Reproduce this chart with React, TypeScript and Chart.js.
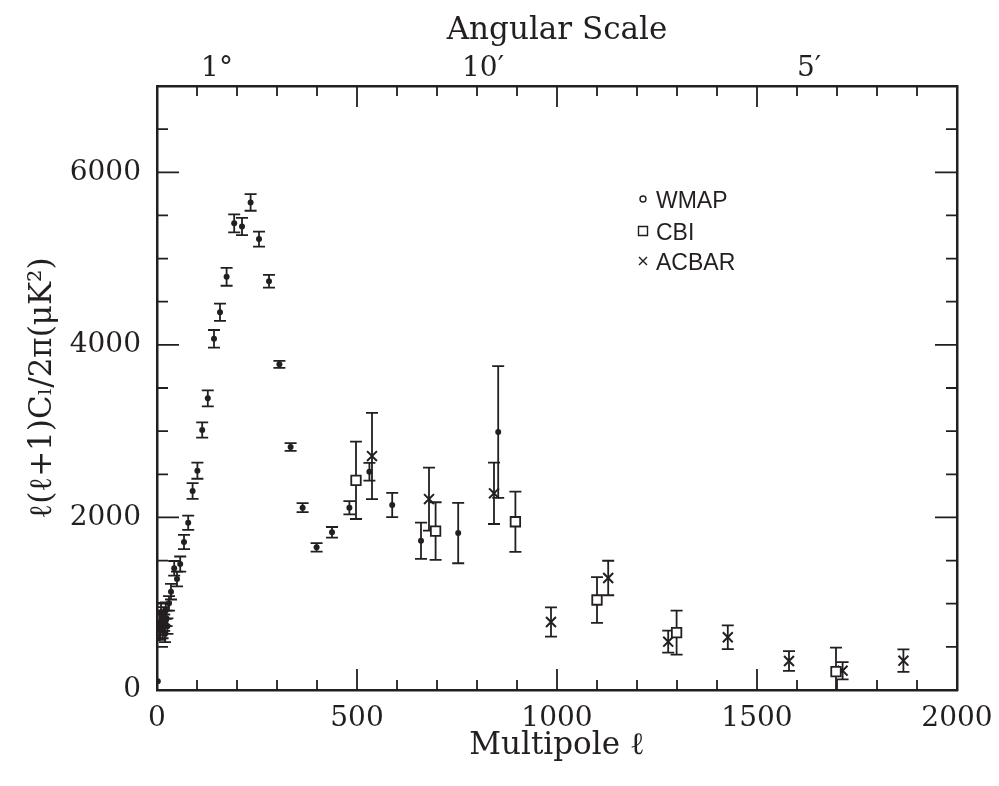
import { useEffect, useRef } from "react";
import { Chart, registerables } from "chart.js";

Chart.register(...registerables);

// ---------- data ----------
const wmapEll = [2, 4, 6, 8, 10, 12, 14, 16, 18, 20, 22, 24, 26, 30, 35, 43, 50, 58, 67.5, 78, 89, 101, 113, 127, 142.5, 157.5, 174, 193, 212.5, 234, 255, 280, 306, 334, 364, 399, 437.5, 481, 531, 588, 660, 753, 853];
const wmapVal = [100, 600, 760, 690, 900, 820, 700, 860, 780, 650, 920, 830, 740, 1004, 1139, 1410, 1286, 1460, 1715, 1939, 2306, 2541, 3013, 3380, 4070, 4378, 4789, 5408, 5372, 5651, 5226, 4737, 3774, 2816, 2113, 1653, 1827, 2113, 2530, 2144, 1730, 1819, 2990];
const wmapErr = [0, 0, 120, 110, 110, 100, 100, 100, 95, 95, 95, 90, 90, 85, 90, 85, 85, 87, 83, 83, 91, 93, 89, 93, 102, 100, 104, 105, 100, 97, 87, 73, 41, 45, 52, 50, 62, 77, 103, 140, 210, 350, 763];

const cbiEll = [497.5, 696.5, 896, 1100, 1299, 1697.5];
const cbiVal = [2430, 1842, 1950, 1043, 664, 212];
const cbiErr = [448, 334, 350, 265, 255, 280];

const acbarEll = [537.5, 680, 842.5, 985, 1128, 1278, 1427, 1580, 1714, 1866];
const acbarVal = [2711, 2213, 2279, 788, 1298, 560, 611, 336, 224, 340];
const acbarErr = [500, 365, 355, 170, 200, 128, 137, 115, 100, 130];

const xTickValues = [0, 500, 1000, 1500, 2000];
const yTickValues = [0, 2000, 4000, 6000];
const topTickValues = [150, 815, 1630];
const topTickLabels = ["1°", "10′", "5′"];
const legendLabels = ["WMAP", "CBI", "ACBAR"];

const X_MIN = 0, X_MAX = 2000, Y_MIN = 0, Y_MAX = 7000;
const X_MINOR = 100, X_MAJOR = 500, Y_MINOR = 500, Y_MAJOR = 2000;

const INK = "#231f20";
const SERIF = '"DejaVu Serif", "Liberation Serif", serif';

const errorSets = [
  { ell: wmapEll, val: wmapVal, err: wmapErr },
  { ell: cbiEll, val: cbiVal, err: cbiErr },
  { ell: acbarEll, val: acbarVal, err: acbarErr },
];

const errorBarPlugin = {
  id: "errorBars",
  beforeDatasetsDraw(chart: any) {
    const { ctx, chartArea, scales } = chart;
    const xs = scales.x, ys = scales.y;
    ctx.save();
    ctx.beginPath();
    ctx.rect(chartArea.left, chartArea.top, chartArea.right - chartArea.left, chartArea.bottom - chartArea.top);
    ctx.clip();
    ctx.strokeStyle = INK;
    ctx.lineWidth = 1.8;
    const cap = 6;
    for (const s of errorSets) {
      for (let i = 0; i < s.ell.length; i++) {
        if (!s.err[i]) continue;
        const px = xs.getPixelForValue(s.ell[i]);
        const top = ys.getPixelForValue(s.val[i] + s.err[i]);
        const bot = ys.getPixelForValue(s.val[i] - s.err[i]);
        ctx.beginPath();
        ctx.moveTo(px, top);
        ctx.lineTo(px, bot);
        ctx.moveTo(px - cap, top);
        ctx.lineTo(px + cap, top);
        ctx.moveTo(px - cap, bot);
        ctx.lineTo(px + cap, bot);
        ctx.stroke();
      }
    }
    ctx.restore();
  },
};

const tickPlugin = {
  id: "inTicks",
  afterDraw(chart: any) {
    const { ctx, chartArea, scales } = chart;
    const xs = scales.x, ys = scales.y;
    ctx.save();
    ctx.strokeStyle = INK;
    ctx.lineWidth = 1.8;
    ctx.beginPath();
    for (let v = X_MIN + X_MINOR; v < X_MAX; v += X_MINOR) {
      const px = xs.getPixelForValue(v);
      const len = v % X_MAJOR === 0 ? 21 : 10;
      ctx.moveTo(px, chartArea.bottom);
      ctx.lineTo(px, chartArea.bottom - len);
      ctx.moveTo(px, chartArea.top);
      ctx.lineTo(px, chartArea.top + len);
    }
    for (let v = Y_MIN + Y_MINOR; v < Y_MAX; v += Y_MINOR) {
      const py = ys.getPixelForValue(v);
      const len = v % Y_MAJOR === 0 ? 22 : 11;
      ctx.moveTo(chartArea.left, py);
      ctx.lineTo(chartArea.left + len, py);
      ctx.moveTo(chartArea.right, py);
      ctx.lineTo(chartArea.right - len, py);
    }
    ctx.stroke();
    ctx.restore();
  },
};

const legendPlugin = {
  id: "innerLegend",
  afterDraw(chart: any) {
    const { ctx, chartArea } = chart;
    const mx = chartArea.left + 486;
    const tx = chartArea.left + 499;
    const baselines = [chartArea.top + 122, chartArea.top + 154, chartArea.top + 184];
    ctx.save();
    ctx.fillStyle = INK;
    ctx.strokeStyle = INK;
    ctx.font = '23px "Liberation Sans", Arial, sans-serif';
    ctx.textBaseline = "alphabetic";
    ctx.textAlign = "left";
    legendLabels.forEach((lab, i) => {
      const by = baselines[i];
      const my = by - 9;
      ctx.lineWidth = 1.4;
      ctx.beginPath();
      if (i === 0) {
        ctx.arc(mx, my, 3, 0, Math.PI * 2);
      } else if (i === 1) {
        ctx.rect(mx - 4.5, my - 4.5, 9, 9);
      } else {
        ctx.moveTo(mx - 4, my - 4);
        ctx.lineTo(mx + 4, my + 4);
        ctx.moveTo(mx + 4, my - 4);
        ctx.lineTo(mx - 4, my + 4);
      }
      ctx.stroke();
      ctx.fillText(lab, tx, by);
    });
    ctx.restore();
  },
};

export default function App() {
  const ref = useRef<HTMLCanvasElement | null>(null);

  useEffect(() => {
    if (!ref.current) return;
    const tickFont = { family: SERIF, size: 28 };
    const titleFont = { family: SERIF, size: 31 };
    const plain = (v: any) => String(v);
    const chart = new Chart(ref.current, {
      type: "scatter",
      data: {
        datasets: [
          {
            label: "WMAP",
            data: wmapEll.map((x, i) => ({ x, y: wmapVal[i] })),
            pointStyle: "circle",
            pointRadius: 3,
            backgroundColor: INK,
            borderColor: INK,
            borderWidth: 0,
            xAxisID: "x",
            yAxisID: "y",
          },
          {
            label: "CBI",
            data: cbiEll.map((x, i) => ({ x, y: cbiVal[i] })),
            pointStyle: "rect",
            pointRadius: 6.7,
            backgroundColor: "#ffffff",
            borderColor: INK,
            borderWidth: 1.8,
            xAxisID: "x",
            yAxisID: "y",
          },
          {
            label: "ACBAR",
            data: acbarEll.map((x, i) => ({ x, y: acbarVal[i] })),
            pointStyle: "crossRot",
            pointRadius: 7,
            backgroundColor: INK,
            borderColor: INK,
            borderWidth: 2,
            xAxisID: "x",
            yAxisID: "y",
          },
        ],
      } as any,
      options: {
        animation: false,
        responsive: true,
        maintainAspectRatio: false,
        layout: { padding: 0 },
        plugins: { legend: { display: false }, tooltip: { enabled: false } },
        events: [],
        scales: {
          x: {
            type: "linear",
            position: "bottom",
            min: X_MIN,
            max: X_MAX,
            afterBuildTicks: (s: any) => {
              s.ticks = xTickValues.map((v) => ({ value: v }));
            },
            afterFit: (s: any) => {
              s.height = 96;
              s.paddingLeft = 0;
              s.paddingRight = 0;
            },
            ticks: { font: tickFont, color: INK, padding: 12, maxRotation: 0, autoSkip: false, callback: plain },
            grid: { display: false, drawTicks: false },
            border: { display: true, color: INK, width: 2.5 },
            title: { display: true, text: "Multipole ℓ", font: titleFont, color: INK, padding: { top: 0, bottom: 21 } },
          },
          x2: {
            type: "linear",
            position: "top",
            min: X_MIN,
            max: X_MAX,
            afterBuildTicks: (s: any) => {
              s.ticks = topTickValues.map((v) => ({ value: v }));
            },
            afterFit: (s: any) => {
              s.height = 86;
              s.paddingLeft = 0;
              s.paddingRight = 0;
            },
            ticks: {
              font: tickFont,
              color: INK,
              padding: 0,
              maxRotation: 0,
              autoSkip: false,
              callback: (_v: any, i: number) => topTickLabels[i],
            },
            grid: { display: false, drawTicks: false },
            border: { display: true, color: INK, width: 2.5 },
            title: { display: true, text: "Angular Scale", font: titleFont, color: INK, padding: { top: 12, bottom: 0 } },
          },
          y: {
            type: "linear",
            position: "left",
            min: Y_MIN,
            max: Y_MAX,
            afterBuildTicks: (s: any) => {
              s.ticks = yTickValues.map((v) => ({ value: v }));
            },
            afterFit: (s: any) => {
              s.width = 157;
            },
            ticks: { font: tickFont, color: INK, padding: 16, autoSkip: false, callback: plain },
            grid: { display: false, drawTicks: false },
            border: { display: true, color: INK, width: 2.5 },
            title: { display: true, text: "ℓ(ℓ+1)Cₗ/2π(μK²)", font: titleFont, color: INK, padding: { top: 24, bottom: 0 } },
          },
          y2: {
            type: "linear",
            position: "right",
            min: Y_MIN,
            max: Y_MAX,
            afterFit: (s: any) => {
              s.width = 42;
            },
            ticks: { display: false },
            grid: { display: false, drawTicks: false },
            border: { display: true, color: INK, width: 2.5 },
          },
        },
      } as any,
      plugins: [errorBarPlugin, tickPlugin, legendPlugin],
    });
    return () => chart.destroy();
  }, []);

  return (
    <div style={{ position: "absolute", left: 0, top: 0, width: 999, height: 786, background: "#ffffff" }}>
      <canvas ref={ref} />
    </div>
  );
}
